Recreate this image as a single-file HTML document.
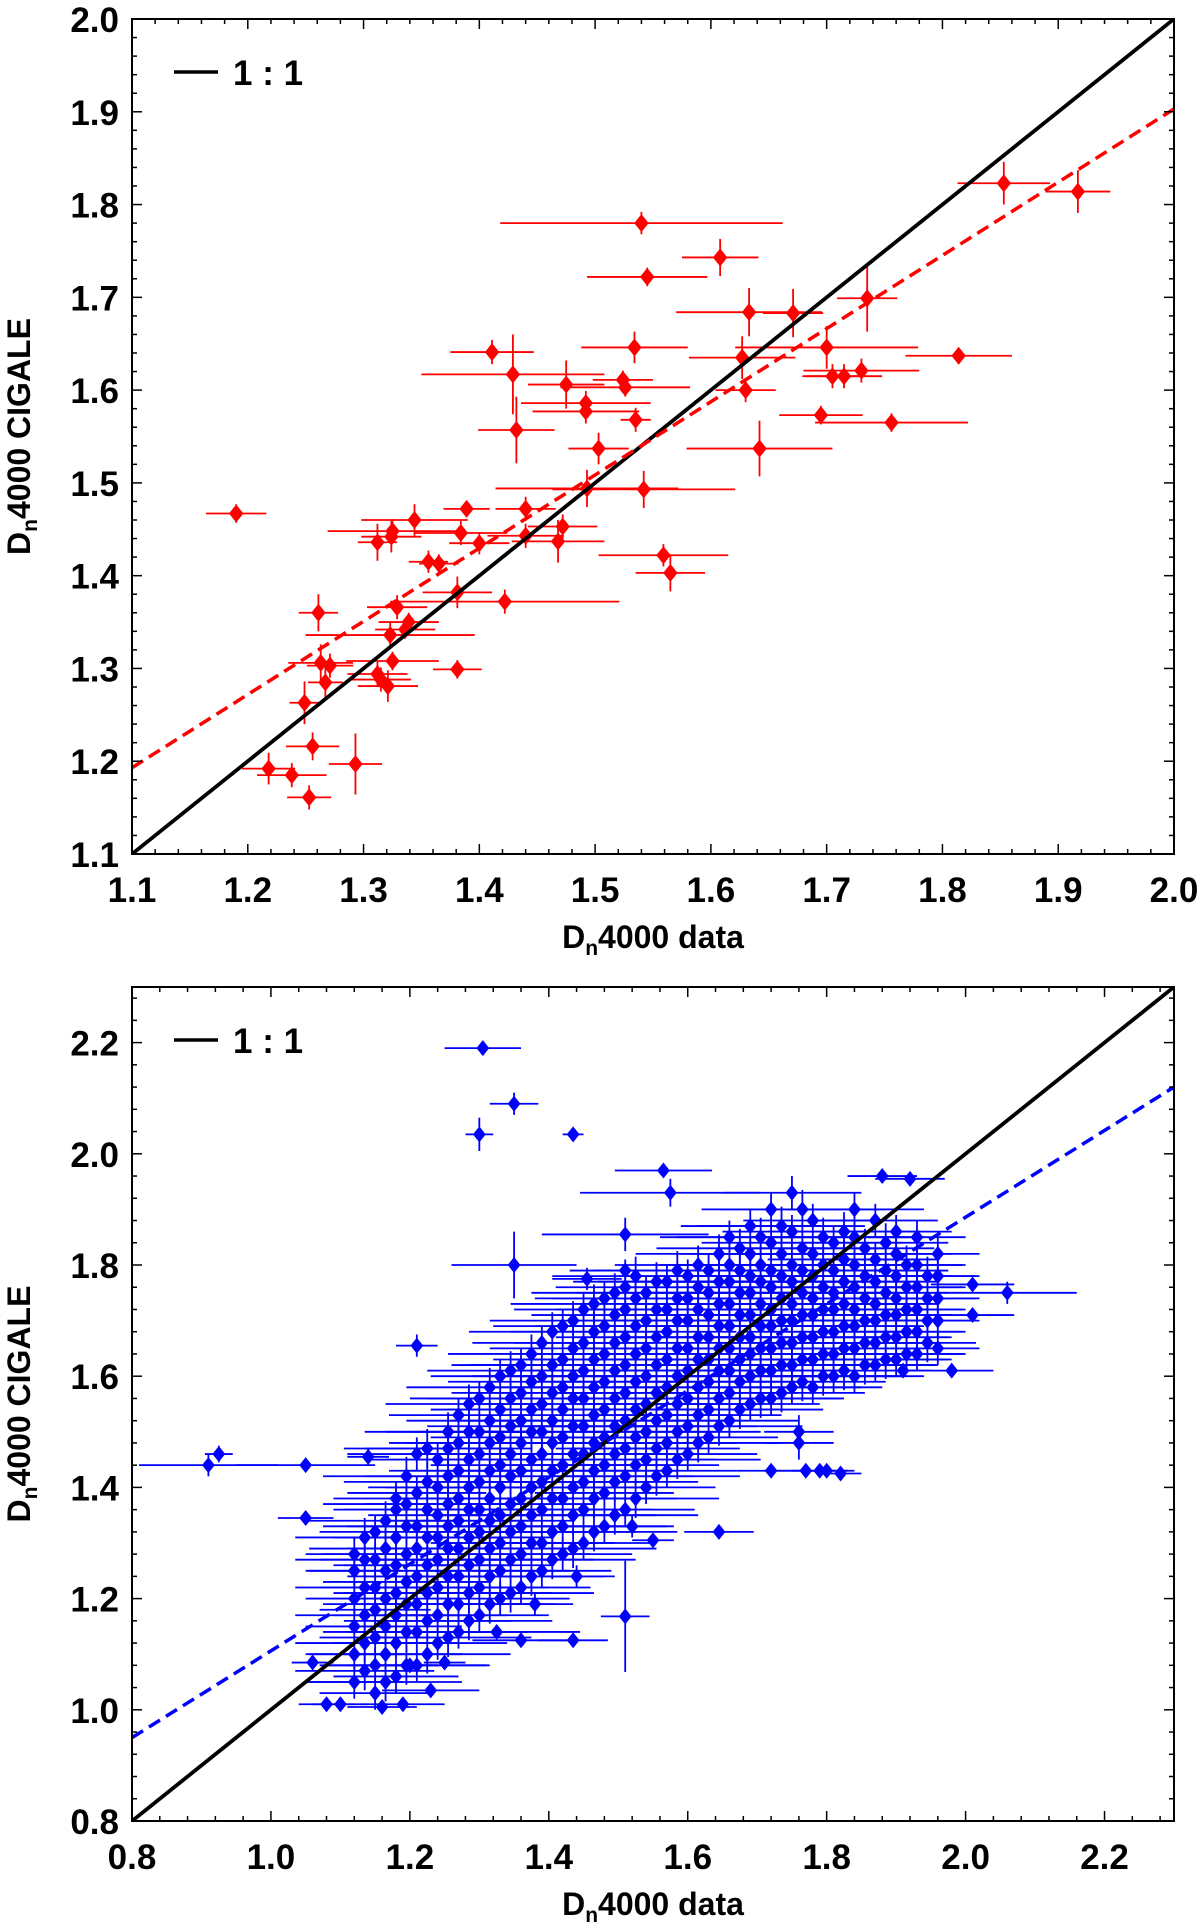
<!DOCTYPE html>
<html><head><meta charset="utf-8"><style>
html,body{margin:0;padding:0;background:#fff}
svg{display:block}
text{font-family:"Liberation Sans",sans-serif;font-weight:bold}
</style></head><body>
<svg id="fig" width="1200" height="1931" viewBox="0 0 1200 1931" xmlns="http://www.w3.org/2000/svg"></svg>
<script>
// ---- top panel data (red) ----
const redX=[1.19,1.218,1.238,1.253,1.249,1.256,1.261,1.263,1.267,1.271,1.293,1.312,1.315,1.321,1.325,1.323,1.329,1.336,1.339,1.312,1.324,1.325,1.344,1.356,1.365,1.381,1.381,1.384,1.389,1.4,1.422,1.411,1.429,1.432,1.44,1.44,1.468,1.472,1.475,1.492,1.492,1.493,1.503,1.524,1.526,1.534,1.535,1.54,1.545,1.542,1.559,1.565,1.608,1.627,1.63,1.633,1.642,1.671,1.695,1.7,1.705,1.715,1.73,1.735,1.756,1.814,1.853,1.917];
const redY=[1.467,1.192,1.185,1.161,1.263,1.216,1.36,1.306,1.285,1.303,1.197,1.294,1.288,1.281,1.308,1.336,1.366,1.342,1.35,1.436,1.442,1.448,1.46,1.415,1.413,1.382,1.299,1.446,1.472,1.435,1.372,1.641,1.617,1.557,1.472,1.443,1.437,1.453,1.606,1.586,1.577,1.494,1.537,1.611,1.603,1.646,1.568,1.78,1.722,1.493,1.422,1.403,1.743,1.635,1.6,1.684,1.537,1.683,1.573,1.646,1.615,1.615,1.621,1.699,1.565,1.637,1.823,1.814];
const redXerr=[0.026,0.023,0.03,0.019,0.013,0.023,0.017,0.028,0.015,0.02,0.023,0.026,0.026,0.026,0.04,0.073,0.026,0.026,0.026,0.017,0.026,0.056,0.046,0.017,0.017,0.03,0.021,0.04,0.02,0.026,0.099,0.036,0.079,0.033,0.026,0.033,0.04,0.03,0.033,0.056,0.046,0.079,0.026,0.026,0.056,0.046,0.013,0.122,0.052,0.079,0.056,0.03,0.033,0.046,0.026,0.063,0.063,0.026,0.036,0.079,0.026,0.033,0.05,0.026,0.066,0.046,0.04,0.028];
const redYerr=[0.01,0.017,0.013,0.013,0.023,0.015,0.02,0.02,0.017,0.013,0.033,0.013,0.013,0.017,0.01,0.013,0.013,0.01,0.01,0.02,0.017,0.013,0.017,0.012,0.01,0.017,0.01,0.013,0.008,0.012,0.013,0.013,0.043,0.036,0.013,0.013,0.023,0.013,0.026,0.013,0.013,0.02,0.017,0.01,0.01,0.017,0.013,0.012,0.01,0.02,0.012,0.02,0.02,0.023,0.013,0.026,0.03,0.026,0.01,0.023,0.013,0.013,0.013,0.036,0.01,0.008,0.023,0.023];
const redFit=[1.193,1.903];
// ---- bottom panel data (blue) ----
const blueOutX=[0.91,0.925,1.05,1.14,1.05,1.21,1.305,1.35,1.3,1.435,1.35,1.565,1.575,1.51,1.51,1.455,1.51,1.645,1.55,1.435,1.36,1.325,1.23,1.06,1.08,1.1,1.16,1.19,1.2,1.25,1.88,1.92,1.79,1.8,1.82,1.77,1.72,2.06,2.01,2.01,1.98,1.91,1.76,1.76,1.44,1.38,1.52];
const blueOutY=[1.44,1.46,1.44,1.455,1.345,1.655,2.19,2.09,2.035,2.035,1.8,1.97,1.93,1.855,1.79,1.775,1.168,1.32,1.305,1.125,1.125,1.14,1.035,1.085,1.01,1.01,1.005,1.01,1.08,1.085,1.96,1.955,1.43,1.43,1.425,1.43,1.43,1.75,1.765,1.71,1.61,1.61,1.5,1.48,1.24,1.19,1.33];
const blueOutXerr=[0.1,0.02,0.1,0.03,0.04,0.03,0.055,0.035,0.02,0.015,0.09,0.07,0.13,0.12,0.08,0.05,0.035,0.05,0.03,0.05,0.07,0.12,0.07,0.03,0.04,0.04,0.05,0.06,0.04,0.03,0.05,0.05,0.04,0.04,0.03,0.06,0.05,0.1,0.06,0.06,0.06,0.04,0.05,0.05,0.04,0.03,0.05];
const blueOutYerr=[0.02,0.015,0.01,0.015,0.01,0.02,0.01,0.02,0.03,0.005,0.06,0.01,0.025,0.03,0.02,0.02,0.1,0.01,0.01,0.01,0.01,0.01,0.01,0.01,0.01,0.01,0.01,0.01,0.01,0.01,0.005,0.005,0.01,0.01,0.01,0.01,0.01,0.02,0.01,0.01,0.01,0.01,0.03,0.03,0.02,0.02,0.02];
const coreX=[1.12,1.15,1.18,1.21,1.24,1.27,1.30,1.33,1.36,1.39,1.42,1.45,1.48,1.51,1.54,1.57,1.60,1.63,1.66,1.69,1.72,1.75,1.78,1.81,1.84,1.87,1.90,1.93,1.96];
const coreY=[[1.05,1.1,1.15,1.2,1.25,1.28],[1.03,1.08,1.13,1.18,1.22,1.27,1.32],[1.06,1.12,1.17,1.21,1.26,1.31,1.36,1.38],[1.08,1.14,1.19,1.24,1.29,1.33,1.39,1.46],[1.12,1.17,1.22,1.27,1.31,1.35,1.4,1.45],[1.14,1.19,1.24,1.29,1.34,1.38,1.43,1.48,1.53],[1.17,1.22,1.27,1.32,1.36,1.41,1.46,1.5,1.56],[1.2,1.25,1.3,1.35,1.4,1.44,1.49,1.54,1.6],[1.22,1.28,1.33,1.38,1.43,1.48,1.52,1.57,1.62],[1.25,1.3,1.36,1.41,1.46,1.5,1.55,1.6,1.66],[1.28,1.33,1.38,1.44,1.49,1.54,1.58,1.63,1.69],[1.3,1.36,1.41,1.46,1.51,1.56,1.61,1.66,1.72],[1.33,1.39,1.44,1.49,1.54,1.59,1.64,1.69,1.74],[1.36,1.42,1.47,1.52,1.57,1.62,1.67,1.72,1.76],[1.4,1.45,1.5,1.55,1.6,1.65,1.7,1.75],[1.43,1.48,1.53,1.58,1.63,1.68,1.72,1.77],[1.46,1.51,1.56,1.61,1.65,1.7,1.74,1.78],[1.49,1.54,1.59,1.63,1.67,1.71,1.75,1.79],[1.52,1.57,1.61,1.65,1.69,1.73,1.77,1.8,1.85],[1.55,1.6,1.64,1.67,1.71,1.75,1.78,1.82,1.87],[1.56,1.61,1.65,1.69,1.72,1.76,1.79,1.84,1.9],[1.58,1.62,1.66,1.7,1.73,1.77,1.8,1.86,1.93],[1.58,1.63,1.67,1.71,1.74,1.78,1.82,1.88],[1.6,1.64,1.68,1.72,1.75,1.79,1.84],[1.6,1.65,1.69,1.72,1.76,1.8,1.85,1.9],[1.62,1.66,1.7,1.73,1.77,1.81,1.88],[1.63,1.67,1.71,1.74,1.78,1.82,1.86],[1.64,1.68,1.72,1.76,1.8,1.85],[1.65,1.7,1.74,1.78,1.82]];
const coreXerr=[0.07,0.08,0.09,0.1,0.1,0.1,0.1,0.1,0.1,0.1,0.1,0.1,0.1,0.1,0.1,0.1,0.1,0.1,0.1,0.1,0.1,0.1,0.1,0.1,0.1,0.09,0.08,0.07,0.06];
const coreYerr=[0.03,0.03,0.03,0.03,0.03,0.03,0.03,0.03,0.03,0.03,0.03,0.03,0.03,0.03,0.03,0.03,0.03,0.03,0.03,0.03,0.03,0.03,0.03,0.03,0.03,0.03,0.03,0.03,0.03];
const coreX2=[1.135,1.165,1.195,1.225,1.255,1.285,1.315,1.345,1.375,1.405,1.435,1.465,1.495,1.525,1.555,1.585,1.615,1.645,1.675,1.705,1.735,1.765,1.795,1.825,1.855,1.885,1.915,1.945];
const coreY2=[[1.07,1.12,1.17,1.22,1.27,1.31],[1.05,1.1,1.15,1.2,1.25,1.29,1.34],[1.08,1.14,1.19,1.23,1.28,1.33,1.37,1.42],[1.1,1.16,1.21,1.26,1.31,1.36,1.41,1.47],[1.13,1.19,1.24,1.29,1.33,1.37,1.42,1.47,1.5],[1.16,1.21,1.26,1.31,1.36,1.4,1.45,1.5,1.55],[1.19,1.24,1.29,1.34,1.38,1.43,1.48,1.52,1.58],[1.21,1.27,1.32,1.37,1.42,1.46,1.51,1.56,1.61],[1.24,1.3,1.35,1.4,1.45,1.5,1.54,1.59,1.64],[1.27,1.32,1.38,1.43,1.48,1.52,1.57,1.62,1.68],[1.29,1.35,1.4,1.46,1.51,1.56,1.6,1.65,1.7],[1.32,1.38,1.43,1.48,1.53,1.58,1.63,1.68,1.73],[1.35,1.41,1.46,1.51,1.56,1.61,1.66,1.71,1.75],[1.38,1.44,1.49,1.54,1.59,1.64,1.69,1.74,1.78],[1.42,1.47,1.52,1.57,1.62,1.67,1.72,1.77],[1.45,1.5,1.55,1.6,1.65,1.7,1.74,1.79],[1.48,1.53,1.58,1.63,1.67,1.72,1.76,1.8],[1.51,1.56,1.61,1.65,1.69,1.73,1.77,1.82],[1.54,1.59,1.63,1.67,1.71,1.75,1.79,1.83],[1.56,1.61,1.65,1.69,1.73,1.77,1.8,1.85],[1.57,1.62,1.66,1.7,1.74,1.78,1.82,1.87],[1.59,1.63,1.67,1.71,1.75,1.79,1.83,1.9],[1.6,1.64,1.68,1.72,1.76,1.8,1.85],[1.61,1.65,1.69,1.73,1.77,1.81,1.86],[1.62,1.66,1.7,1.74,1.78,1.83],[1.63,1.67,1.71,1.75,1.79,1.84],[1.64,1.68,1.72,1.76,1.8],[1.66,1.7,1.74,1.78]];
const coreXerr2=[0.1,0.11,0.12,0.12,0.12,0.12,0.12,0.12,0.12,0.12,0.12,0.12,0.12,0.12,0.12,0.12,0.12,0.12,0.12,0.12,0.12,0.12,0.12,0.11,0.1,0.09,0.08,0.07];
const coreYerr2=[0.035,0.035,0.035,0.035,0.035,0.035,0.035,0.035,0.035,0.035,0.035,0.035,0.035,0.035,0.035,0.035,0.035,0.035,0.035,0.035,0.035,0.035,0.035,0.035,0.035,0.035,0.035,0.035];
const blueFit=[0.95,2.12];
const topTicks=["1.1","1.2","1.3","1.4","1.5","1.6","1.7","1.8","1.9","2.0"];
const botTicks=["0.8","1.0","1.2","1.4","1.6","1.8","2.0","2.2"];

const NS="http://www.w3.org/2000/svg";
const svg=document.getElementById('fig');
function el(tag,attrs,parent,txt){const e=document.createElementNS(NS,tag);for(const k in attrs)e.setAttribute(k,attrs[k]);if(txt!==undefined)e.textContent=txt;(parent||svg).appendChild(e);return e;}

function panel(cfg){
  const g=el('g',{});
  
  
  const {L,R,T,B,min,max}=cfg;
  const sx=v=>L+(v-min)/(max-min)*(R-L);
  const sy=v=>B-(v-min)/(max-min)*(B-T);
  const clip='clip'+cfg.id;
  const cp=el('clipPath',{id:clip},g);el('rect',{x:L,y:T,width:R-L,height:B-T},cp);
  const pg=el('g',{'clip-path':'url(#'+clip+')'},g);
  const mg=el('g',{},pg);
  
  
  const r=cfg.ms;
  function pt(x,y,xe,ye){
    el('line',{x1:sx(x-xe),x2:sx(x+xe),y1:sy(y),y2:sy(y),stroke:cfg.color,'stroke-width':1.8},mg);
    el('line',{x1:sx(x),x2:sx(x),y1:sy(y-ye),y2:sy(y+ye),stroke:cfg.color,'stroke-width':1.8},mg);
    const cx=sx(x),cy=sy(y);
    el('polygon',{points:`${cx},${cy-r} ${cx+r*0.8},${cy} ${cx},${cy+r} ${cx-r*0.8},${cy}`,fill:cfg.color},mg);
  }
  cfg.draw(pt);
  const one=el('line',{x1:sx(min),y1:sy(min),x2:sx(max),y2:sy(max),stroke:'#000','stroke-width':3.8},pg);
  
  
  const fit=el('line',{x1:sx(min),y1:sy(cfg.fit[0]),x2:sx(max),y2:sy(cfg.fit[1]),stroke:cfg.color,'stroke-width':3.5,'stroke-dasharray':'13 7'},pg);
  
  
  el('rect',{x:L,y:T,width:R-L,height:B-T,fill:'none',stroke:'#000','stroke-width':2},g);
  const tg=el('g',{stroke:'#000','stroke-width':1.5},g);
  const nMinor=Math.round((max-min)/cfg.minor);
  for(let i=0;i<=nMinor;i++){
    const v=min+i*cfg.minor;
    const major=Math.abs((v-min)/cfg.major-Math.round((v-min)/cfg.major))<1e-6;
    const len=major?10:5;
    el('line',{x1:sx(v),x2:sx(v),y1:B,y2:B-len},tg);
    el('line',{x1:sx(v),x2:sx(v),y1:T,y2:T+len},tg);
    el('line',{x1:L,x2:L+len,y1:sy(v),y2:sy(v)},tg);
    el('line',{x1:R,x2:R-len,y1:sy(v),y2:sy(v)},tg);
  }
  cfg.ticks.forEach(t=>{
    const v=parseFloat(t);
    const xt=el('text',{x:sx(v),y:B+48,'font-size':35,'text-anchor':'middle'},g,t);
    
    
    const yt=el('text',{x:L-13,y:sy(v)+13,'font-size':35,'text-anchor':'end'},g,t);
    
    
  });
  const xl=el('text',{x:(L+R)/2,y:B+94,'font-size':32,'text-anchor':'middle'},g);
  
  
  el('tspan',{},xl,'D');el('tspan',{'font-size':21,dy:7},xl,'n');el('tspan',{dy:-7},xl,'4000 data');
  const cy=(T+B)/2;
  const yl=el('text',{x:0,y:0,'font-size':32,'text-anchor':'middle',transform:`translate(30,${cy}) rotate(-90)`},g);
  
  
  el('tspan',{},yl,'D');el('tspan',{'font-size':21,dy:7},yl,'n');el('tspan',{dy:-7},yl,'4000 CIGALE');
  const lg=el('g',{},g);
  
  
  el('line',{x1:L+42,x2:L+86,y1:cfg.legY,y2:cfg.legY,stroke:'#000','stroke-width':3.5},lg);
  el('text',{x:L+101,y:cfg.legY+13,'font-size':35},lg,'1 : 1');
}

panel({id:'top',name:'top-panel-red',L:132,R:1174,T:19,B:854,min:1.1,max:2.0,major:0.1,minor:0.02,
  color:'#f00',ms:9,fit:redFit,ticks:topTicks,legY:72,
  draw:pt=>{for(let i=0;i<redX.length;i++)pt(redX[i],redY[i],redXerr[i],redYerr[i]);}});
panel({id:'bot',name:'bottom-panel-blue',L:132,R:1174,T:987,B:1821,min:0.8,max:2.3,major:0.2,minor:0.04,
  color:'#00f',ms:8,fit:blueFit,ticks:botTicks,legY:1040,
  draw:pt=>{
    for(let c=0;c<coreX.length;c++)for(let j=0;j<coreY[c].length;j++)pt(coreX[c],coreY[c][j],coreXerr[c],coreYerr[c]);
    for(let c=0;c<coreX2.length;c++)for(let j=0;j<coreY2[c].length;j++)pt(coreX2[c],coreY2[c][j],coreXerr2[c],coreYerr2[c]);
    for(let i=0;i<blueOutX.length;i++)pt(blueOutX[i],blueOutY[i],blueOutXerr[i],blueOutYerr[i]);
  }});
</script>
</body></html>
